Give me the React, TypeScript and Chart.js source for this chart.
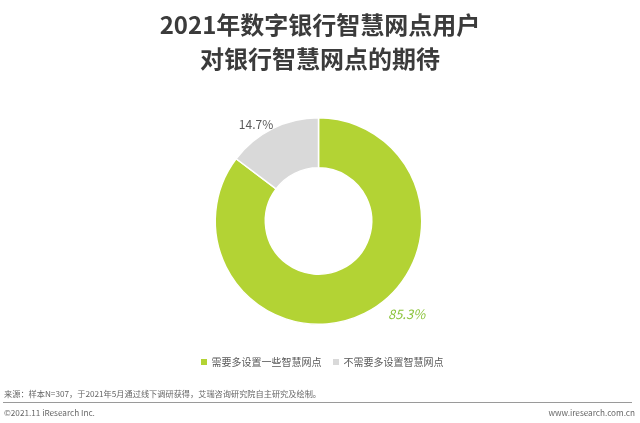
import React, { useEffect, useRef } from "react";
import { Chart, registerables } from "chart.js";

Chart.register(...registerables);

const titleLines = ["2021年数字银行智慧网点用户", "对银行智慧网点的期待"];
const categories = ["需要多设置一些智慧网点", "不需要多设置智慧网点"];
const values = [85.3, 14.7];
const valueLabels = ["85.3%", "14.7%"];
const colors = ["#b3d334", "#d9d9d9"];
const labelColors = ["#8cc43c", "#5a5a5a"];
const labelItalic = [true, false];
const labelFraction = [0.445, 0.38];
const labelRadiusExtra = [25, 12];
const sourceText = "来源：样本N=307，于2021年5月通过线下调研获得，艾瑞咨询研究院自主研究及绘制。";
const copyrightText = "©2021.11 iResearch Inc.";
const siteText = "www.iresearch.com.cn";

const FONT = '"Noto Sans CJK SC", "Noto Sans", sans-serif';

const labelPlugin = {
  id: "sliceLabels",
  afterDatasetsDraw(chart: any) {
    const ctx = chart.ctx;
    const meta = chart.getDatasetMeta(0);
    meta.data.forEach((arc: any, i: number) => {
      const p = arc.getProps(["x", "y", "startAngle", "endAngle", "outerRadius"], true);
      const a = p.startAngle + (p.endAngle - p.startAngle) * labelFraction[i];
      const r = p.outerRadius + labelRadiusExtra[i];
      const x = p.x + Math.cos(a) * r;
      const y = p.y + Math.sin(a) * r;
      ctx.save();
      ctx.font = `${labelItalic[i] ? "italic " : ""}${labelItalic[i] ? 13 : 12}px ${FONT}`;
      ctx.fillStyle = labelColors[i];
      ctx.textAlign = "center";
      ctx.textBaseline = "middle";
      ctx.fillText(valueLabels[i], x, y);
      ctx.restore();
    });
  },
};

export default function App() {
  const ref = useRef<HTMLCanvasElement | null>(null);
  useEffect(() => {
    if (!ref.current) return;
    const chart = new Chart(ref.current, {
      type: "doughnut",
      data: {
        labels: categories,
        datasets: [
          {
            data: values,
            backgroundColor: colors,
            borderColor: "#ffffff",
            borderWidth: 1.5,
          },
        ],
      },
      options: {
        animation: false,
        responsive: false,
        cutout: "51.5%",
        layout: { padding: { top: 117, bottom: 98, left: 0, right: 3 } },
        plugins: {
          legend: { display: false },
          tooltip: { enabled: false },
          title: { display: false },
        },
      },
      plugins: [labelPlugin],
    });
    return () => chart.destroy();
  }, []);

  return (
    <div
      style={{
        position: "absolute",
        left: 0,
        top: 0,
        width: 640,
        height: 423,
        background: "#fff",
        fontFamily: FONT,
        overflow: "hidden",
      }}
    >
      <canvas ref={ref} width={640} height={423} style={{ position: "absolute", left: 0, top: 0 }} />
      {titleLines.map((t, i) => (
        <div
          key={i}
          style={{
            position: "absolute",
            left: 0,
            width: 640,
            top: 24 - 16 + i * 34,
            textAlign: "center",
            fontSize: 24,
            fontWeight: 700,
            color: "#3b3b3b",
            lineHeight: "32px",
          }}
        >
          {t}
        </div>
      ))}
      <div
        style={{
          position: "absolute",
          top: 354,
          left: 2,
          width: 640,
          display: "flex",
          justifyContent: "center",
          gap: 11,
          fontSize: 10,
          color: "#595959",
          lineHeight: "16px",
        }}
      >
        {categories.map((c, i) => (
          <span key={i} style={{ display: "flex", alignItems: "center" }}>
            <span
              style={{ width: 6, height: 6, background: colors[i], display: "inline-block", marginRight: 5 }}
            />
            {c}
          </span>
        ))}
      </div>
      <div style={{ position: "absolute", left: 4, top: 387, fontSize: 8.2, color: "#666", lineHeight: "12px" }}>
        {sourceText}
      </div>
      <div style={{ position: "absolute", left: 3, right: 8, top: 402, height: 1, background: "#9a9a9a" }} />
      <div style={{ position: "absolute", left: 4, top: 406, fontSize: 8.2, color: "#666", lineHeight: "12px" }}>
        {copyrightText}
      </div>
      <div style={{ position: "absolute", right: 5, top: 406, fontSize: 8.2, color: "#666", lineHeight: "12px" }}>
        {siteText}
      </div>
    </div>
  );
}
